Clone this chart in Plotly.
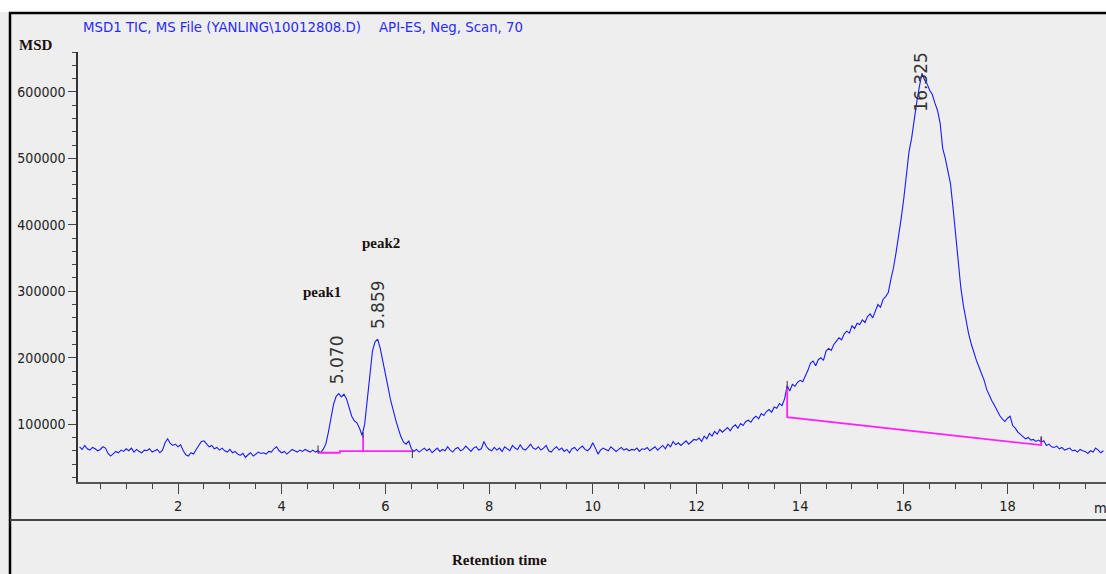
import plotly.graph_objects as go

# ---------------- data ----------------
scan_start = 0.10          # min
scan_step = 0.05           # min between scans

# TIC abundance, in thousands of counts, one value per scan
tic_k = [
    # 0.10 - 0.95
    66, 62, 68, 63, 61, 65, 63, 60, 62, 66, 64, 56, 52, 55, 59, 57, 61, 59,
    # 1.00 - 1.95
    63, 60, 64, 58, 62, 59, 57, 61, 60, 63, 58, 60, 62, 57, 61, 72, 78, 71, 68, 70,
    # 2.00 - 2.95
    66, 69, 60, 54, 52, 57, 55, 62, 68, 74, 75, 70, 66, 68, 63, 65, 61, 64, 60, 58,
    # 3.00 - 3.95
    62, 57, 59, 55, 53, 56, 50, 54, 57, 52, 55, 58, 56, 57, 55, 59, 58, 63, 66, 60,
    # 4.00 - 4.95
    57, 59, 55, 58, 62, 60, 58, 61, 59, 62, 60, 58, 61, 58, 60, 57, 62, 70, 88, 112,
    # 5.00 - 5.95
    130, 142, 146, 141, 145, 138, 125, 112, 105, 102, 94, 83, 100, 140, 180, 210, 224, 228, 214, 196,
    # 6.00 - 6.95
    176, 156, 136, 119, 106, 93, 81, 73, 70, 75, 63, 59, 62, 58, 61, 64, 60, 63, 57, 61,
    # 7.00 - 7.95
    64, 59, 62, 60, 66, 61, 58, 63, 65, 60, 62, 67, 63, 59, 64, 66, 61, 63, 74, 66,
    # 8.00 - 8.95
    62, 60, 65, 61, 64, 59, 66, 63, 60, 68, 64, 62, 69, 63, 61, 65, 70, 64, 62, 66,
    # 9.00 - 9.95
    61, 64, 68, 60, 58, 63, 66, 61, 64, 59, 62, 57, 63, 65, 60, 64, 67, 62, 60, 64,
    # 10.00 - 10.95
    72, 64, 55, 61, 64, 62, 60, 66, 63, 59, 62, 65, 61, 63, 60, 62, 61, 64, 59, 63,
    # 11.00 - 11.95
    62, 65, 60, 63, 66, 61, 64, 68, 63, 70, 66, 74, 69, 72, 68, 71, 75, 70, 74, 77,
    # 12.00 - 12.95
    76, 79, 74, 82, 78, 86, 82, 89, 85, 92, 88, 91, 95, 90, 96, 99, 94, 101, 98, 104,
    # 13.00 - 13.95
    106, 103, 109, 112, 108, 116, 113, 119, 122, 118, 126, 124, 131, 128, 138, 158, 150, 160, 157, 163,
    # 14.00 - 14.95
    166, 164, 172, 181, 192, 195, 188, 197, 200, 196, 210, 214, 211, 220, 225, 230, 227, 236, 240, 237,
    # 15.00 - 15.95
    248, 244, 252, 250, 257, 253, 262, 266, 260, 271, 280, 276, 288, 292, 298, 318, 335, 358, 382, 410,
    # 16.00 - 16.95
    440, 478, 510, 530, 560, 585, 608, 628, 618, 612, 602, 596, 583, 572, 553, 515, 500, 478, 462, 425,
    # 17.00 - 17.95
    385, 345, 305, 278, 256, 236, 221, 207, 196, 186, 176, 166, 152, 143, 135, 128, 120, 113, 108, 104,
    # 18.00 - 18.95
    109, 112, 98, 94, 88, 85, 82, 78, 80, 76, 77, 74, 76, 73, 75, 68, 70, 66, 65, 67,
    # 19.00 - 19.85
    63, 65, 61, 62, 64, 60, 61, 58, 62, 60, 59, 56, 60, 58, 64, 61, 57, 60,
]

# integration baselines (retention time, abundance)
base12_t = [4.70, 5.12, 5.12, 6.52]
base12_v = [57000, 57000, 59500, 59500]
drop12_t = [5.57, 5.57]
drop12_v = [59500, 83000]
base3_t = [13.75, 13.75, 18.65, 18.65]
base3_v = [154000, 110500, 68500, 80000]

# integration event marks: (time, low, high)
event_t = [4.70, 5.57, 6.52, 13.75, 18.65]
event_lo = [56000, 80000, 49000, 154000, 73000]
event_hi = [68000, 88000, 61000, 165000, 82000]

# labelled peaks
peak_rt = [5.070, 5.859, 16.325]
peak_rt_text = ["5.070", "5.859", "16.325"]
peak_names = ["peak1", "peak2"]

title_left = "MSD1 TIC, MS File (YANLING\\10012808.D)"
title_right = "API-ES, Neg, Scan, 70"
y_title = "MSD"
x_title = "Retention time"

x_range = [0.07, 19.9]
y_range = [13000, 660000]

# ---------------- layout helpers (pixel -> paper) ----------------
W, H = 1106, 574
L, T, PW, PH = 78, 52, 1028, 430


def pxx(p):
    return (p - L) / PW


def pxy(p):
    return 1 - (p - T) / PH


times = [round(scan_start + i * scan_step, 2) for i in range(len(tic_k))]
tic = [v * 1000 for v in tic_k]

BG = "#EEEEEE"
NARROW = "Liberation Sans Narrow, Arial Narrow, DejaVu Sans Condensed, sans-serif"
SERIF = "Liberation Serif, Times New Roman, DejaVu Serif, serif"

fig = go.Figure()

fig.add_trace(go.Scatter(x=times, y=tic, mode="lines",
                         line=dict(color="#1a1aff", width=1.1),
                         hoverinfo="skip", showlegend=False))

for tx, vy in [(base12_t, base12_v), (drop12_t, drop12_v), (base3_t, base3_v)]:
    fig.add_trace(go.Scatter(x=tx, y=vy, mode="lines",
                             line=dict(color="#ff22ff", width=1.8),
                             hoverinfo="skip", showlegend=False))

for t, lo, hi in zip(event_t, event_lo, event_hi):
    fig.add_trace(go.Scatter(x=[t, t], y=[lo, hi], mode="lines",
                             line=dict(color="#333333", width=1),
                             hoverinfo="skip", showlegend=False))

annotations = []
# title pieces
annotations.append(dict(text=title_left, x=pxx(81), y=pxy(26), xref="paper", yref="paper",
                        xanchor="left", yanchor="middle", showarrow=False,
                        font=dict(family=NARROW, size=14.8, color="#2a2aff")))
annotations.append(dict(text=title_right, x=pxx(377), y=pxy(26), xref="paper", yref="paper",
                        xanchor="left", yanchor="middle", showarrow=False,
                        font=dict(family=NARROW, size=14.8, color="#2a2aff")))
# axis titles
annotations.append(dict(text="<b>%s</b>" % y_title, x=pxx(17), y=pxy(45), xref="paper", yref="paper",
                        xanchor="left", yanchor="middle", showarrow=False,
                        font=dict(family=SERIF, size=15, color="#1a1010")))
annotations.append(dict(text="<b>%s</b>" % x_title, x=pxx(499), y=pxy(560), xref="paper", yref="paper",
                        xanchor="center", yanchor="middle", showarrow=False,
                        font=dict(family=SERIF, size=15, color="#1a1010")))
annotations.append(dict(text="min", x=pxx(1092), y=pxy(508), xref="paper", yref="paper",
                        xanchor="left", yanchor="middle", showarrow=False,
                        font=dict(family=NARROW, size=14.5, color="#222222")))
# peak names
for name, cx, cy in zip(peak_names, [322, 381], [292, 243]):
    annotations.append(dict(text="<b>%s</b>" % name, x=pxx(cx), y=pxy(cy), xref="paper", yref="paper",
                            xanchor="center", yanchor="middle", showarrow=False,
                            font=dict(family=SERIF, size=15, color="#1a1010")))
# retention-time labels (rotated)
for rt, txt, cy in zip(peak_rt, peak_rt_text, [360, 305, 82]):
    annotations.append(dict(text=txt, x=rt, y=pxy(cy), xref="x", yref="paper",
                            xanchor="center", yanchor="middle", showarrow=False, textangle=-90,
                            font=dict(family="DejaVu Sans, sans-serif", size=17, color="#333333")))

shapes = [
    # white strip at top
    dict(type="rect", xref="paper", yref="paper", x0=pxx(0), x1=pxx(W + 2), y0=pxy(12), y1=pxy(-2),
         fillcolor="white", line=dict(width=0), layer="above"),
    # black frame lines
    dict(type="line", xref="paper", yref="paper", x0=pxx(9), x1=pxx(W + 2), y0=pxy(13), y1=pxy(13),
         line=dict(color="black", width=2.5)),
    dict(type="line", xref="paper", yref="paper", x0=pxx(10), x1=pxx(10), y0=pxy(12), y1=pxy(H + 2),
         line=dict(color="black", width=2.5)),
    # divider above x title
    dict(type="line", xref="paper", yref="paper", x0=pxx(10), x1=pxx(W + 2), y0=pxy(520), y1=pxy(520),
         line=dict(color="#444444", width=2)),
]

fig.update_layout(
    width=W, height=H,
    margin=dict(l=L, r=W - L - PW, t=T, b=H - T - PH, pad=0),
    paper_bgcolor=BG, plot_bgcolor=BG,
    showlegend=False,
    annotations=annotations,
    shapes=shapes,
    xaxis=dict(range=x_range, dtick=2, tick0=0, showgrid=False, zeroline=False,
               showline=True, linecolor="#555555", linewidth=2,
               ticks="outside", ticklen=10, tickwidth=1.2, tickcolor="#444444",
               tickfont=dict(family=NARROW, size=14.5, color="#222222"),
               minor=dict(dtick=0.5, tick0=0, ticks="outside", ticklen=5, tickwidth=1.2,
                          tickcolor="#444444", showgrid=False)),
    yaxis=dict(range=y_range, dtick=100000, tick0=0, showgrid=False, zeroline=False,
               showline=True, linecolor="#333333", linewidth=1.5,
               ticks="outside", ticklen=8, tickwidth=1.2, tickcolor="#444444",
               tickformat="d",
               tickfont=dict(family=NARROW, size=14, color="#222222"),
               minor=dict(dtick=20000, tick0=0, ticks="outside", ticklen=4, tickwidth=1.2,
                          tickcolor="#444444", showgrid=False)),
)

fig.write_html("out.html", config=dict(displayModeBar=False))
